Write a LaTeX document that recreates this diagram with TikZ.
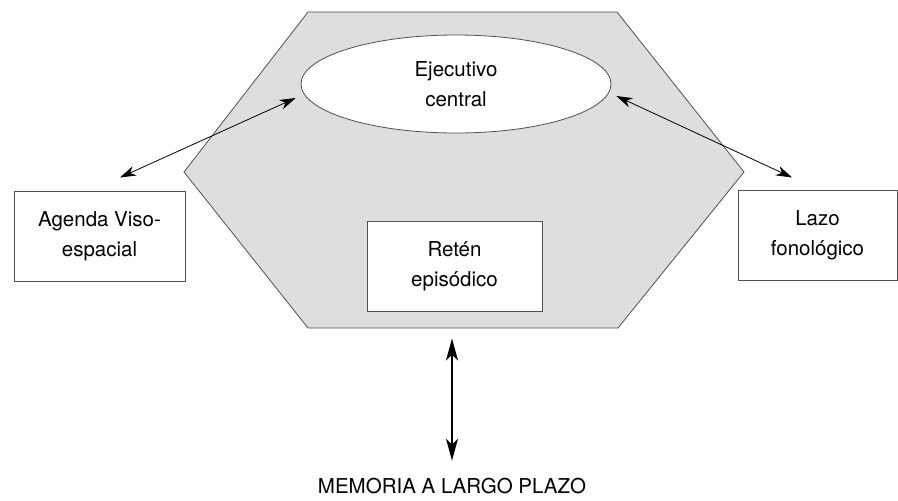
\documentclass[tikz,border=0pt]{standalone}
\usepackage{fontspec}
\setmainfont{TeX Gyre Heros}
\usetikzlibrary{positioning, arrows.meta, shapes.geometric}
\definecolor{hexfill}{RGB}{222,222,222}
\definecolor{edgegray}{RGB}{80,80,80}
\begin{document}
\begin{tikzpicture}[x=1pt, y=-1pt, font=\fontsize{20.5}{30}\selectfont,
  box/.style={draw=edgegray, line width=1pt, fill=white, align=center, minimum height=90pt, inner sep=0pt},
  arrow/.style={{Stealth[length=16pt, width=10pt, inset=5pt]}-{Stealth[length=16pt, width=10pt, inset=5pt]}, line width=0.8pt},
  bigarrow/.style={{Stealth[length=22pt, width=12pt, inset=6pt]}-{Stealth[length=22pt, width=12pt, inset=6pt]}, line width=2.2pt}]
\useasboundingbox (0,0) rectangle (898,501);
\draw[fill=hexfill, draw=edgegray, line width=0.8pt] (308,12) -- (617,12) -- (744,172) -- (618,328) -- (308,328) -- (184,172) -- cycle;
\node[draw=edgegray, ellipse, fill=white, line width=0.8pt, minimum width=310pt, minimum height=98pt, inner sep=0pt, align=center] (ejec) at (456,84) {Ejecutivo\\central};
\node[box, minimum width=171pt] (agenda) at (99.5,236) {Agenda Viso-\\espacial};
\node[box, minimum width=159pt] (lazo) at (817.5,235) {Lazo\\fonológico};
\node[box, minimum width=175pt] (reten) at (454.5,266) {Retén\\episódico};
\node (mem) at (452,486) {MEMORIA A LARGO PLAZO};
\draw[arrow] ([xshift=-5pt, yshift=-14pt]ejec.west) -- ([xshift=20.5pt, yshift=13pt]agenda.north);
\draw[arrow] ([xshift=5pt, yshift=-12pt]ejec.east) -- ([xshift=-25.5pt, yshift=12pt]lazo.north);
\draw[bigarrow] ([xshift=-2.5pt, yshift=-27pt]reten.south) -- ([yshift=14pt]mem.north);
\end{tikzpicture}
\end{document}
